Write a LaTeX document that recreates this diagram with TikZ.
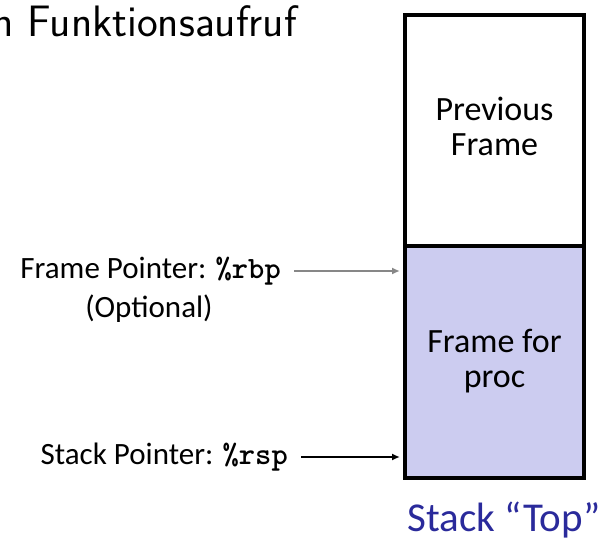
\documentclass[tikz,border=0pt]{standalone}
\usepackage{fontspec}
\setmainfont{Carlito}
\usetikzlibrary{arrows.meta}

\definecolor{framefill}{RGB}{204,204,240}
\definecolor{topblue}{RGB}{42,42,155}
\definecolor{fpgray}{RGB}{135,135,135}

\newcommand{\reg}[1]{{\ttfamily\bfseries\fontsize{31}{31}\selectfont #1}}

\begin{document}
\begin{tikzpicture}[x=1pt,y=-1pt,line cap=butt,line join=miter,
    stackcell/.style={draw,line width=4pt,minimum width=179pt,inner sep=0pt},
    celltext/.style={align=center,inner sep=0pt,font=\fontsize{34}{35}\selectfont},
    ptrlabel/.style={inner sep=0pt,font=\fontsize{31}{39}\selectfont},
    ptrarrow/.style={line width=2pt,-{Latex[length=8pt,width=7pt]},
        shorten <=13pt,shorten >=3pt}]
        \useasboundingbox (0,0) rectangle (606,540);

        \node[anchor=base east,font=\sffamily\fontsize{44}{46}\selectfont,inner sep=0pt]
            (title) at (297,37) {n Funktionsaufruf};

        % stack frames
        \node[stackcell,minimum height=231pt] (prevframe) at (494.5,130.5) {};
        \node[stackcell,minimum height=232pt,fill=framefill] (procframe) at (494.5,362) {};
        \node[celltext] (prevtext) at (494.5,126) {Previous\\Frame};
        \node[celltext] (proctext) at (494.5,361) {Frame for\\proc};

        % pointers
        \node[ptrlabel,anchor=east] (fpname) at (281,271)
            {Frame Pointer: \reg{\%rbp}};
        \node[ptrlabel,anchor=base] (fpopt) at (149,318) {(Optional)};
        \draw[ptrarrow,fpgray] (fpname.east) -- (fpname.east -| procframe.west);

        \node[ptrlabel,anchor=east] (spname) at (288,457)
            {Stack Pointer: \reg{\%rsp}};
        \draw[ptrarrow] (spname.east) -- (spname.east -| procframe.west);

        \node[anchor=base,text=topblue,font=\fontsize{41}{42}\selectfont,inner sep=0pt]
            (stacktop) at (504,531) {Stack \textquotedblleft Top\textquotedblright};
    \end{tikzpicture}
\end{document}
